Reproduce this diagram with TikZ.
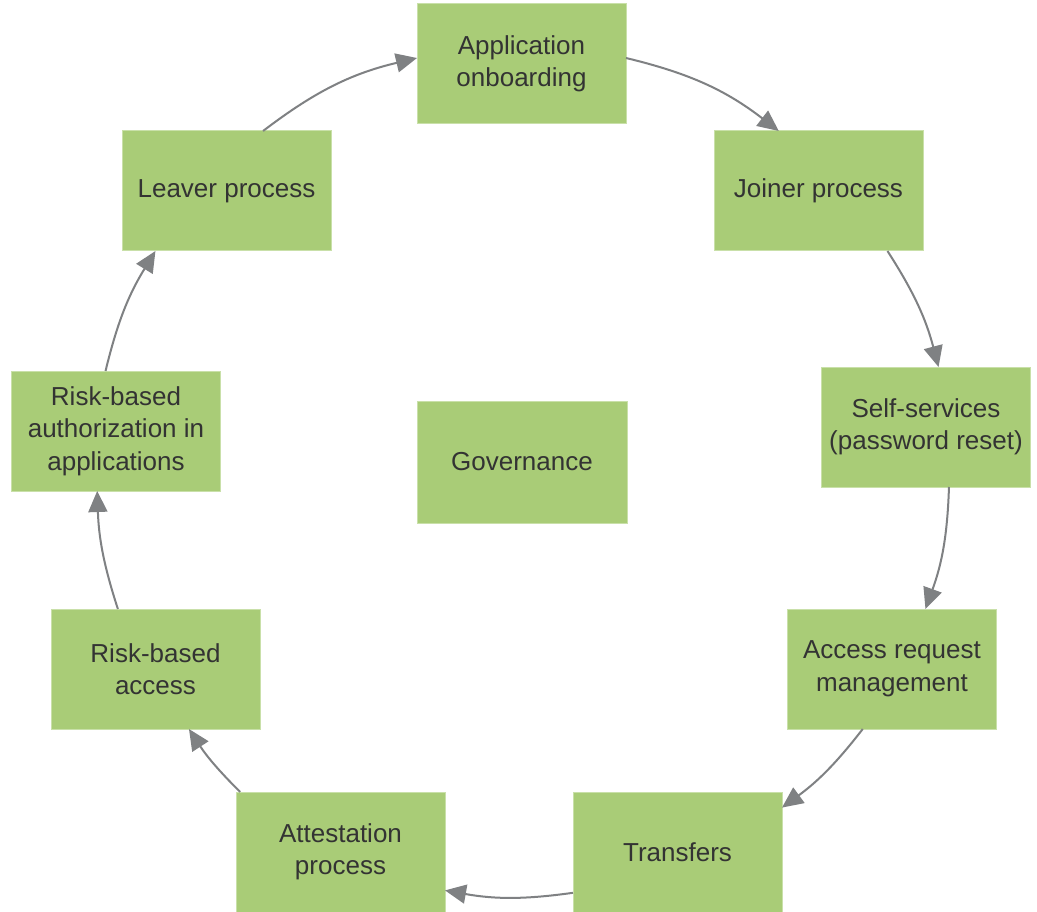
\documentclass[tikz,border=0pt]{standalone}
\usepackage{fontspec}
\setmainfont{Liberation Sans}
\usetikzlibrary{arrows.meta,calc}
\definecolor{boxgreen}{HTML}{A9CC77}
\definecolor{boxedge}{HTML}{C9E0A9}
\definecolor{txt}{HTML}{333333}
\definecolor{arr}{HTML}{7F8183}
\begin{document}
\begin{tikzpicture}[x=1pt,y=-1pt,
  box/.style={rectangle, fill=boxgreen, draw=boxedge, line width=1pt,
    minimum width=209pt, minimum height=120pt, inner sep=0pt, outer sep=0pt,
    align=center, text=txt, font=\fontsize{26}{32.5}\selectfont},
  flow/.style={draw=arr, line width=2pt, -{Triangle[length=21pt,width=19pt]}}]
\useasboundingbox (0,0) rectangle (1037,912);
\fill[white] (0,0) rectangle (1037,912);
\node[box] (app) at (521.5,64) {Application\\onboarding};
\node[box] (joiner) at (818.5,191) {Joiner process};
\node[box] (self) at (926,427) {Self-services\\(password reset)};
\node[box] (access) at (892,669) {Access request\\management};
\node[box] (transfers) at (677.5,852) {Transfers};
\node[box] (attest) at (340.5,852) {Attestation\\process};
\node[box] (riskacc) at (155.5,669) {Risk-based\\access};
\node[box] (riskauth) at (116,431) {Risk-based\\authorization in\\applications};
\node[box] (leaver) at (226.5,191) {Leaver process};
\node[box, minimum width=210pt, minimum height=122pt] (gov) at (522,462) {Governance};

\draw[flow] ($(leaver.north west)!0.675!(leaver.north east)$) to[bend left=12]
  ($(app.north west)!0.45!(app.south west)$);
\draw[flow] ($(app.north east)!0.45!(app.south east)$) to[bend left=12]
  ($(joiner.north west)!0.31!(joiner.north east)$);
\draw[flow] ($(joiner.south west)!0.83!(joiner.south east)$) to[bend left=9]
  ($(self.north west)!0.56!(self.north east)$);
\draw[flow] ($(self.south west)!0.61!(self.south east)$) to[bend left=9]
  ($(access.north west)!0.66!(access.north east)$);
\draw[flow] ($(access.south west)!0.36!(access.south east)$) to[bend left=8]
  ($(transfers.north east)!0.13!(transfers.south east)$);
\draw[flow] ($(transfers.north west)!0.84!(transfers.south west)$) to[bend left=9]
  ($(attest.north east)!0.82!(attest.south east)$);
\draw[flow] ($(attest.north west)!0.02!(attest.north east)$) to[bend left=6]
  ($(riskacc.south west)!0.66!(riskacc.south east)$);
\draw[flow] ($(riskacc.north west)!0.32!(riskacc.north east)$) to[bend left=8]
  ($(riskauth.south west)!0.41!(riskauth.south east)$);
\draw[flow] ($(riskauth.north west)!0.45!(riskauth.north east)$) to[bend left=9]
  ($(leaver.south west)!0.16!(leaver.south east)$);
\end{tikzpicture}
\end{document}
